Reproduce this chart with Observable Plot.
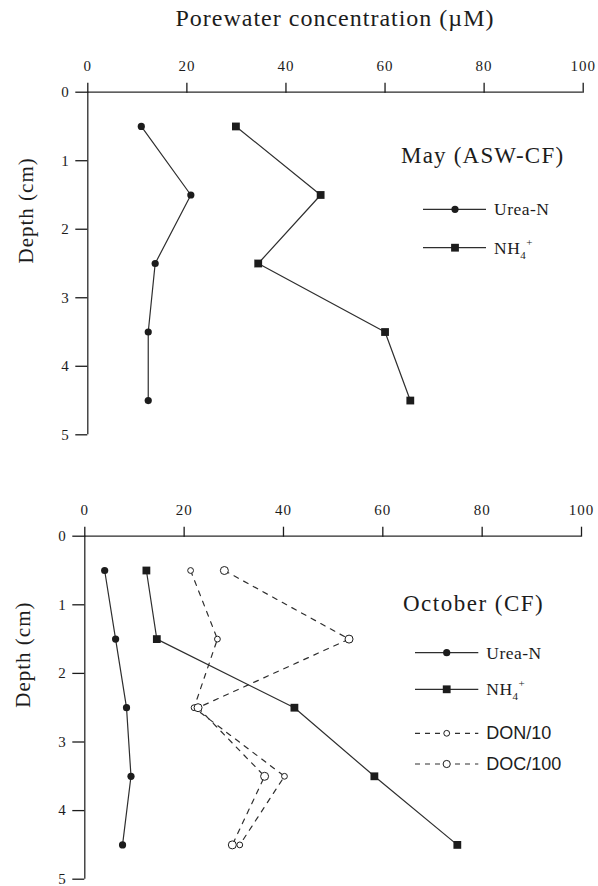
<!DOCTYPE html>
<html><head><meta charset="utf-8">
<script src="https://cdn.jsdelivr.net/npm/d3@7"></script>
<script src="https://cdn.jsdelivr.net/npm/@observablehq/plot@0.6"></script>
<style>
body{margin:0;background:#fff;}
#wrap{position:relative;width:598px;height:886px;overflow:hidden;background:#fff;}
#wrap svg{position:absolute;left:0;}
.panel text{letter-spacing:1px;}
</style></head><body><div id="wrap"></div>
<script>
// ---- data ----
const xTicks = [0, 20, 40, 60, 80, 100];
const yTicks = [0, 1, 2, 3, 4, 5];
const depth = [0.5, 1.5, 2.5, 3.5, 4.5];
const mayUrea = [10.8, 20.8, 13.6, 12.2, 12.2];
const mayNH4 = [29.9, 47.0, 34.4, 60.0, 65.1];
const octUrea = [4.0, 6.2, 8.4, 9.3, 7.6];
const octNH4 = [12.4, 14.5, 42.2, 58.3, 75.0];
const octDON = [21.3, 26.7, 22.0, 40.2, 31.2];
const octDOC = [28.1, 53.2, 22.8, 36.2, 29.7];
const titleText = "Porewater concentration (\u00b5M)";
const yLabel = "Depth (cm)";

const rows = vals => depth.map((d, i) => ({depth: d, value: vals[i]}));
const INK = "#1c1c1c";

function seriesMarks(vals, kind) {
  const data = rows(vals);
  const line = Plot.line(data, {x: "value", y: "depth", stroke: "#2e2e2e", strokeWidth: 1.2,
    strokeDasharray: kind.dashed ? "5,6" : null});
  let dot;
  if (kind.sym === "circle") dot = Plot.dot(data, {x: "value", y: "depth", symbol: "circle", r: 3.6, fill: INK, stroke: "none"});
  else if (kind.sym === "square") dot = Plot.dot(data, {x: "value", y: "depth", symbol: "square", r: 4.4, fill: INK, stroke: "none"});
  else dot = Plot.dot(data, {x: "value", y: "depth", symbol: "circle", r: kind.r, fill: "#fff", stroke: INK, strokeWidth: 1});
  return [line, dot];
}

function panel({height, mt, mb, ml, mr, series}) {
  const marks = [
    Plot.ruleY([0], {stroke: "#2a2a2a", strokeWidth: 1.3}),
    Plot.ruleX([0], {stroke: "#2a2a2a", strokeWidth: 1.3}),
    Plot.axisX({anchor: "top", ticks: xTicks, tickSize: 10, tickPadding: 11, tickFormat: d => String(d), label: null, strokeWidth: 1.3}),
    Plot.axisY({anchor: "left", ticks: yTicks, tickSize: 12, tickPadding: 6, tickFormat: d => String(d), label: null, strokeWidth: 1.3}),
    Plot.text([yLabel], {frameAnchor: "left", dx: -62, rotate: -90, fontSize: 21}),
  ];
  for (const s of series) marks.push(...seriesMarks(s.vals, s.kind));
  return Plot.plot({
    width: 598, height,
    marginTop: mt, marginBottom: mb, marginLeft: ml, marginRight: mr,
    x: {domain: [0, 100]},
    y: {domain: [0, 5], reverse: true},
    style: {fontFamily: "Liberation Serif", fontSize: "15px", color: INK, background: "transparent", overflow: "visible"},
    marks
  });
}

const wrap = document.getElementById("wrap");

const p1 = panel({height: 450, mt: 91.7, mb: 15.7, ml: 87.3, mr: 15.3, series: [
  {vals: mayUrea, kind: {sym: "circle"}},
  {vals: mayNH4, kind: {sym: "square"}}
]});
p1.classList.add("panel");
p1.style.top = "0px";
wrap.appendChild(p1);

const p2 = panel({height: 436, mt: 85.7, mb: 7.3, ml: 84.3, mr: 17, series: [
  {vals: octDON, kind: {sym: "open", r: 2.9, dashed: true}},
  {vals: octDOC, kind: {sym: "open", r: 4, dashed: true}},
  {vals: octUrea, kind: {sym: "circle"}},
  {vals: octNH4, kind: {sym: "square"}}
]});
p2.classList.add("panel");
p2.style.top = "450px";
wrap.appendChild(p2);

// ---- title, panel titles and legends ----
const ov = d3.select(wrap).append("svg").attr("width", 598).attr("height", 886).style("top", "0px")
  .attr("font-family", "Liberation Serif").attr("fill", INK);

ov.append("text").attr("x", 335).attr("y", 26).attr("text-anchor", "middle")
  .attr("font-size", 24).attr("letter-spacing", "1px").text(titleText);
ov.append("text").attr("x", 401).attr("y", 162.7).attr("font-size", 23).attr("letter-spacing", "1.2px").text("May (ASW-CF)");
ov.append("text").attr("x", 403).attr("y", 611).attr("font-size", 23).attr("letter-spacing", "1.5px").text("October (CF)");

function legendItem(x0, x1, xm, y, kind, label) {
  const g = ov.append("g");
  g.append("line").attr("x1", x0).attr("x2", x1).attr("y1", y).attr("y2", y)
    .attr("stroke", "#2e2e2e").attr("stroke-width", 1.2).attr("stroke-dasharray", kind.dashed ? "5,5" : null);
  if (kind.sym === "circle") g.append("circle").attr("cx", xm).attr("cy", y).attr("r", 3.6).attr("fill", INK);
  else if (kind.sym === "square") g.append("rect").attr("x", xm - 3.9).attr("y", y - 3.9).attr("width", 7.8).attr("height", 7.8).attr("fill", INK);
  else g.append("circle").attr("cx", xm).attr("cy", y).attr("r", kind.r).attr("fill", "#fff").attr("stroke", INK).attr("stroke-width", 1);
  const t = g.append("text").attr("x", x1 + 8).attr("y", y + 6);
  if (label === "NH4+") {
    t.attr("font-size", 17.5).attr("letter-spacing", "0.5px");
    t.append("tspan").text("NH");
    t.append("tspan").attr("font-size", 11).attr("dy", 5).text("4");
    t.append("tspan").attr("font-size", 11).attr("dy", -13).text("+");
  } else if (kind.sans) {
    t.attr("font-family", "Liberation Sans").attr("font-size", 18).text(label);
  } else {
    t.attr("font-size", 17.5).attr("letter-spacing", "0.5px").text(label);
  }
}
legendItem(423, 486, 455, 209.3, {sym: "circle"}, "Urea-N");
legendItem(423, 486, 455, 247.7, {sym: "square"}, "NH4+");
legendItem(415, 478.3, 446.7, 652.7, {sym: "circle"}, "Urea-N");
legendItem(415, 478.3, 446.7, 689.3, {sym: "square"}, "NH4+");
legendItem(415, 478.3, 446.7, 733.3, {sym: "open", r: 2.9, dashed: true, sans: true}, "DON/10");
legendItem(415, 478.3, 446.7, 764, {sym: "open", r: 3.6, dashed: true, sans: true}, "DOC/100");
</script></body></html>
